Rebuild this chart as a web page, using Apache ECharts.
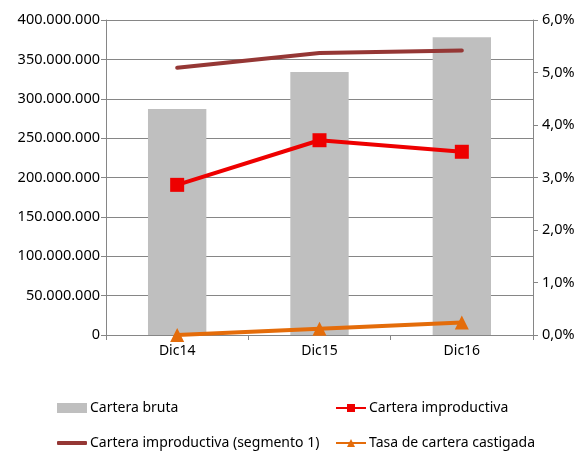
<!DOCTYPE html>
<html>
<head>
<meta charset="utf-8">
<script src="https://cdn.jsdelivr.net/npm/echarts@6/dist/echarts.min.js"></script>
<style>
html, body { margin: 0; padding: 0; background: #fff; }
#main { width: 585px; height: 451px; }
</style>
</head>
<body>
<div id="main"></div>
<script>
// datos
var categorias = ["Dic14", "Dic15", "Dic16"];
var carteraBruta = [287000000, 334000000, 378000000];
var carteraImproductiva = [2.86, 3.71, 3.49];
var carteraSegmento1 = [5.09, 5.37, 5.42];
var tasaCastigada = [0.0, 0.12, 0.24];

var fuente = "Noto Sans";
var gris = "#868686";

function miles(v) {
    return String(v).replace(/\B(?=(\d{3})+(?!\d))/g, ".");
}
function porcentaje(v) {
    return v.toFixed(1).replace(".", ",") + "%";
}
// una leyenda por elemento para poder colocarlas en dos columnas
function leyenda(nombre, left, top, icono, alto) {
    return {
        left: left, top: top, itemWidth: 30, itemHeight: alto || 10, itemGap: 0,
        textStyle: { fontFamily: fuente, fontSize: 14, color: "#000", padding: [0, 0, 0, -2] },
        data: [icono ? { name: nombre, icon: icono } : nombre]
    };
}

var chart = echarts.init(document.getElementById("main"));
chart.setOption({
    animation: false,
    textStyle: { fontFamily: fuente },
    grid: { left: 106, right: 52, top: 20, bottom: 116 },
    legend: [
        leyenda("Cartera bruta", 52, 396, "rect", 10),
        leyenda("Cartera improductiva (segmento 1)", 52, 431, "roundRect", 4),
        leyenda("Cartera improductiva", 330, 396),
        leyenda("Tasa de cartera castigada", 330, 431)
    ],
    xAxis: {
        type: "category",
        data: categorias,
        axisLine: { lineStyle: { color: gris } },
        axisTick: { show: true, length: 5, lineStyle: { color: gris } },
        axisLabel: { color: "#000", fontSize: 14, margin: 9 }
    },
    yAxis: [
        {
            type: "value", min: 0, max: 400000000, interval: 50000000,
            axisLine: { show: true, lineStyle: { color: gris } },
            axisTick: { show: true, length: 5, lineStyle: { color: gris } },
            splitLine: { lineStyle: { color: gris } },
            axisLabel: { color: "#000", fontSize: 14.5, margin: 6, formatter: miles }
        },
        {
            type: "value", min: 0, max: 6, interval: 1,
            axisLine: { show: true, lineStyle: { color: gris } },
            axisTick: { show: true, length: 5, lineStyle: { color: gris } },
            splitLine: { show: false },
            axisLabel: { color: "#000", fontSize: 14.5, margin: 9, formatter: porcentaje }
        }
    ],
    series: [
        {
            name: "Cartera bruta", type: "bar", data: carteraBruta,
            barWidth: "41%", itemStyle: { color: "#BFBFBF" }
        },
        {
            name: "Cartera improductiva", type: "line", yAxisIndex: 1,
            data: carteraImproductiva,
            symbol: "rect", symbolSize: 14,
            lineStyle: { color: "#EE0000", width: 4 },
            itemStyle: { color: "#EE0000" }
        },
        {
            name: "Cartera improductiva (segmento 1)", type: "line", yAxisIndex: 1,
            data: carteraSegmento1, symbol: "none",
            lineStyle: { color: "#953735", width: 4, cap: "round" },
            itemStyle: { color: "#953735" }
        },
        {
            name: "Tasa de cartera castigada", type: "line", yAxisIndex: 1,
            data: tasaCastigada,
            symbol: "triangle", symbolSize: 14,
            lineStyle: { color: "#E46C0A", width: 4 },
            itemStyle: { color: "#E46C0A" }
        }
    ]
});
</script>
</body>
</html>
